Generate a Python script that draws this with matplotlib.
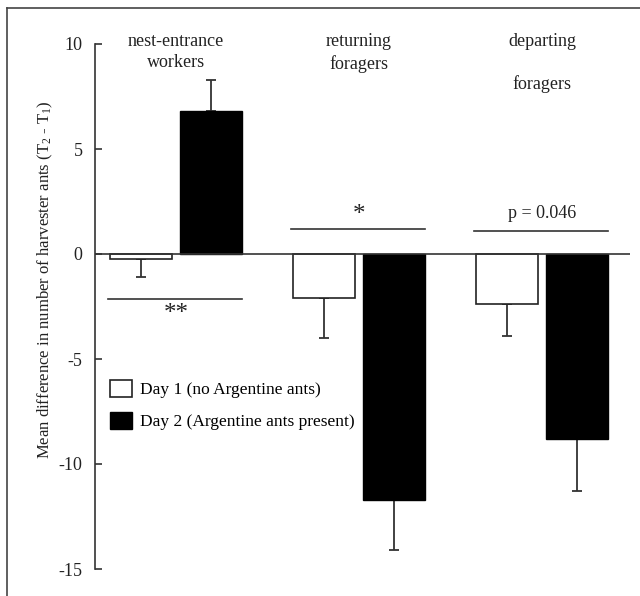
import numpy as np
import matplotlib.pyplot as plt
from matplotlib.lines import Line2D

plt.rcParams['font.family'] = ['Liberation Serif', 'DejaVu Serif']
plt.rcParams['axes.unicode_minus'] = False
plt.rcParams['mathtext.fontset'] = 'custom'
plt.rcParams['mathtext.rm'] = 'Liberation Serif'
plt.rcParams['mathtext.it'] = 'Liberation Serif:italic'

# data
groups = ['nest-entrance\nworkers', 'returning\nforagers', 'departing\n\nforagers']
day1 = [-0.25, -2.1, -2.4]
day1_err = [0.85, 1.9, 1.5]
day2 = [6.8, -11.7, -8.8]
day2_err = [1.5, 2.4, 2.5]
labels = ['Day 1 (no Argentine ants)', 'Day 2 (Argentine ants present)']
sig_text = ['**', '*', 'p = 0.046']
sig_line_y = [-2.15, 1.2, 1.1]
sig_text_y = [-2.85, 1.85, 1.95]

fig = plt.figure(figsize=(6.4, 5.96), dpi=100)
ax = fig.add_axes([95/640, 1 - 569/596, 535/640, 525/596])

x = np.arange(len(groups))
w = 0.339
off = 0.191
ecol = '#333333'

def one_sided(vals, errs):
    lo = [e if v < 0 else 0 for v, e in zip(vals, errs)]
    hi = [e if v >= 0 else 0 for v, e in zip(vals, errs)]
    return [lo, hi]

b1 = ax.bar(x - off, day1, w, color='white', edgecolor='#222222', linewidth=1.2,
            label=labels[0], zorder=2)
b2 = ax.bar(x + off, day2, w, color='black', edgecolor='black', linewidth=1.0,
            label=labels[1], zorder=2)
for vals, errs, pos in [(day1, day1_err, x - off), (day2, day2_err, x + off)]:
    ax.errorbar(pos, vals, yerr=one_sided(vals, errs), fmt='none', ecolor=ecol,
                elinewidth=1.3, capsize=3.6, capthick=1.3, zorder=1)

ax.axhline(0, color='#333333', lw=1.2, zorder=3)

# significance marks
for i, (t, ly, ty) in enumerate(zip(sig_text, sig_line_y, sig_text_y)):
    ax.plot([i - 0.37, i + 0.36], [ly, ly], color='#333333', lw=1.2)
    fs = 18 if '*' in t else 13
    ax.text(i, ty, t, ha='center', va='center', fontsize=fs, color='#222222')

# group titles
for i, g in enumerate(groups):
    ax.text(i, 10.5, g, ha='center', va='top', fontsize=13, color='#222222',
            linespacing=1.3)

ax.set_xlim(-0.443, 2.481)
ax.set_ylim(-15, 10)
ax.set_yticks([-15, -10, -5, 0, 5, 10])
ax.set_xticks([])
for s in ['top', 'right', 'bottom']:
    ax.spines[s].set_visible(False)
ax.spines['left'].set_color('#333333')
ax.spines['left'].set_linewidth(1.2)
ax.tick_params(axis='y', direction='in', length=5, width=1.2, colors='#333333',
               labelsize=13, labelcolor='#222222', pad=9)
ax.set_ylabel('Mean difference in number of harvester ants (T$_2$ - T$_1$)',
              fontsize=12, color='#222222')
ax.yaxis.set_label_coords(-40/535, (569 - 280) / 525)

ax.legend(handles=[b1, b2], loc='upper left', frameon=False, fontsize=12.5,
          bbox_to_anchor=(110/640, 1 - 380/596), bbox_transform=fig.transFigure,
          borderpad=0, borderaxespad=0, handlelength=1.25, handleheight=1.1,
          handletextpad=0.5, labelspacing=0.8)

# frame lines of the original scan
fig.add_artist(Line2D([7/640, 7/640], [0, 1 - 8/596], transform=fig.transFigure,
                      color='#444444', lw=1.2))
fig.add_artist(Line2D([7/640, 1], [1 - 8/596, 1 - 8/596], transform=fig.transFigure,
                      color='#444444', lw=1.2))

fig.savefig('out.png', dpi=100)
